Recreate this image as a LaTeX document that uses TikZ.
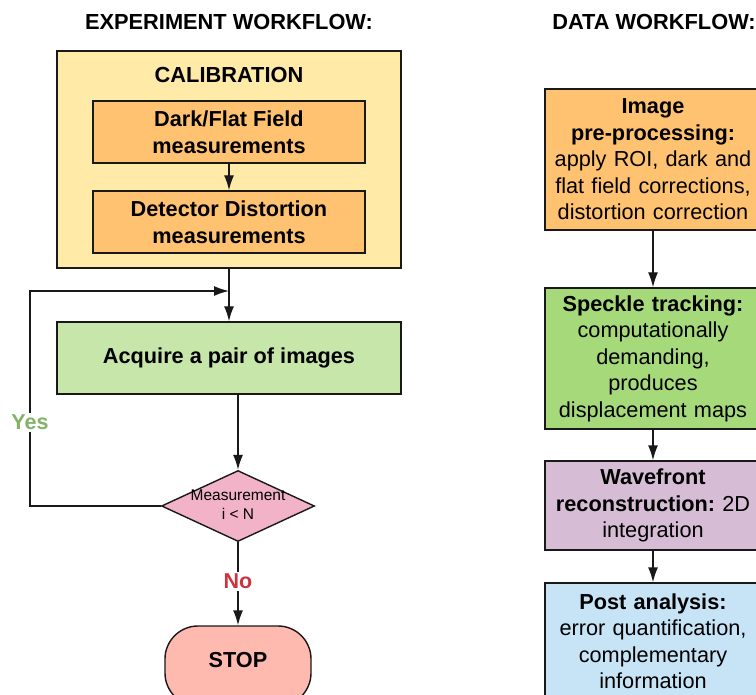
\documentclass[tikz,border=0pt]{standalone}
\usepackage{fontspec}
\setmainfont{Liberation Sans}
\usetikzlibrary{shapes.geometric,arrows.meta}
\definecolor{calibfill}{RGB}{255,234,168}
\definecolor{orangefill}{RGB}{255,194,112}
\definecolor{acqfill}{RGB}{199,230,170}
\definecolor{decfill}{RGB}{242,178,200}
\definecolor{stopfill}{RGB}{255,186,176}
\definecolor{speckfill}{RGB}{166,217,122}
\definecolor{wavefill}{RGB}{214,188,212}
\definecolor{postfill}{RGB}{198,228,246}
\definecolor{yesgreen}{RGB}{130,179,102}
\definecolor{nored}{RGB}{204,51,63}
\definecolor{edge}{RGB}{25,25,25}
\frenchspacing
\begin{document}
\begin{tikzpicture}[x=1pt,y=-1pt,
  box/.style={draw=edge, line width=1.4pt, rectangle, inner sep=0pt, align=center,
    font=\fontsize{21.7}{26.5}\selectfont},
  rbox/.style={box, minimum width=216pt, text width=214pt},
  arr/.style={draw=edge, line width=1.4pt, -{Latex[length=15pt,width=10pt]}},
  lbl/.style={font=\bfseries\fontsize{21.5}{24}\selectfont, fill=white, inner sep=2pt},
  ttl/.style={font=\bfseries\fontsize{21.8}{26}\selectfont, inner sep=0pt}]
\useasboundingbox (0,0) rectangle (756,695);
\clip (0,0) rectangle (756,695);

% titles
\node[ttl] (t1) at (229,22) {EXPERIMENT WORKFLOW:};
\node[ttl] (t2) at (654,22) {DATA WORKFLOW:};

% calibration group
\node[box, fill=calibfill, minimum width=344pt, minimum height=217pt] (calib) at (229,159.5) {};
\node[ttl] (calt) at (229,75) {CALIBRATION};
\node[box, fill=orangefill, minimum width=272pt, minimum height=62pt, font=\bfseries\fontsize{21.7}{26.5}\selectfont] (dark) at (229,132) {Dark/Flat Field\\measurements};
\node[box, fill=orangefill, minimum width=272pt, minimum height=62pt, font=\bfseries\fontsize{21.7}{26.5}\selectfont] (det) at (229,222) {Detector Distortion\\measurements};
\draw[arr] (dark) -- (det);

% acquisition
\node[box, fill=acqfill, minimum width=344pt, minimum height=72pt, font=\bfseries\fontsize{21.7}{26.5}\selectfont] (acq) at (229,358) {Acquire a pair of images};
\draw[arr] (calib.south) -- (acq.north);

% decision
\node[diamond, draw=edge, line width=1.4pt, fill=decfill, minimum width=153pt, minimum height=71pt, inner sep=0pt] (dec) at (238,506) {};
\node[font=\fontsize{15.5}{19}\selectfont, align=center, inner sep=0pt] (dect) at (238,504.5) {Measurement\\i < N};
\draw[arr] (acq.south -| dec.north) -- (dec.north);

% yes loop
\coordinate (lb) at (30,506);
\coordinate (lt) at (30,291);
\coordinate (merge) at (229,291);
\draw[arr] (dec.west) -- (lb) -- node[pos=0.39, lbl, text=yesgreen] (yes) {Yes} (lt) -- (merge);

% stop
\node[draw=edge, line width=1.4pt, fill=stopfill, rectangle, rounded corners=33pt, minimum width=146pt,
  inner sep=0pt, text height=41pt, text depth=39pt, font=\bfseries\fontsize{21.7}{26}\selectfont] (stop) at (238,666) {STOP};
\draw[arr] (dec.south) -- node[lbl, text=nored, pos=0.47] (no) {No} (stop.north);

% data workflow
\node[rbox, fill=orangefill, minimum height=141pt] (pre) at (653,159.5)
  {\textbf{Image}\\\textbf{pre-processing:}\\apply ROI, dark and\\flat field corrections,\\distortion correction};
\node[rbox, fill=speckfill, minimum height=141pt] (speck) at (653,358.5)
  {\textbf{Speckle tracking:}\\computationally\\demanding,\\produces\\displacement maps};
\node[rbox, fill=wavefill, minimum height=89pt] (wave) at (653,505.5)
  {\textbf{Wavefront}\\\textbf{reconstruction:} 2D\\integration};
\node[rbox, fill=postfill, minimum height=116pt] (post) at (653,641)
  {\textbf{Post analysis:}\\error quantification,\\complementary\\information};
\draw[arr] (pre) -- (speck);
\draw[arr] (speck) -- (wave);
\draw[arr] (wave) -- (post.north);
\end{tikzpicture}
\end{document}
